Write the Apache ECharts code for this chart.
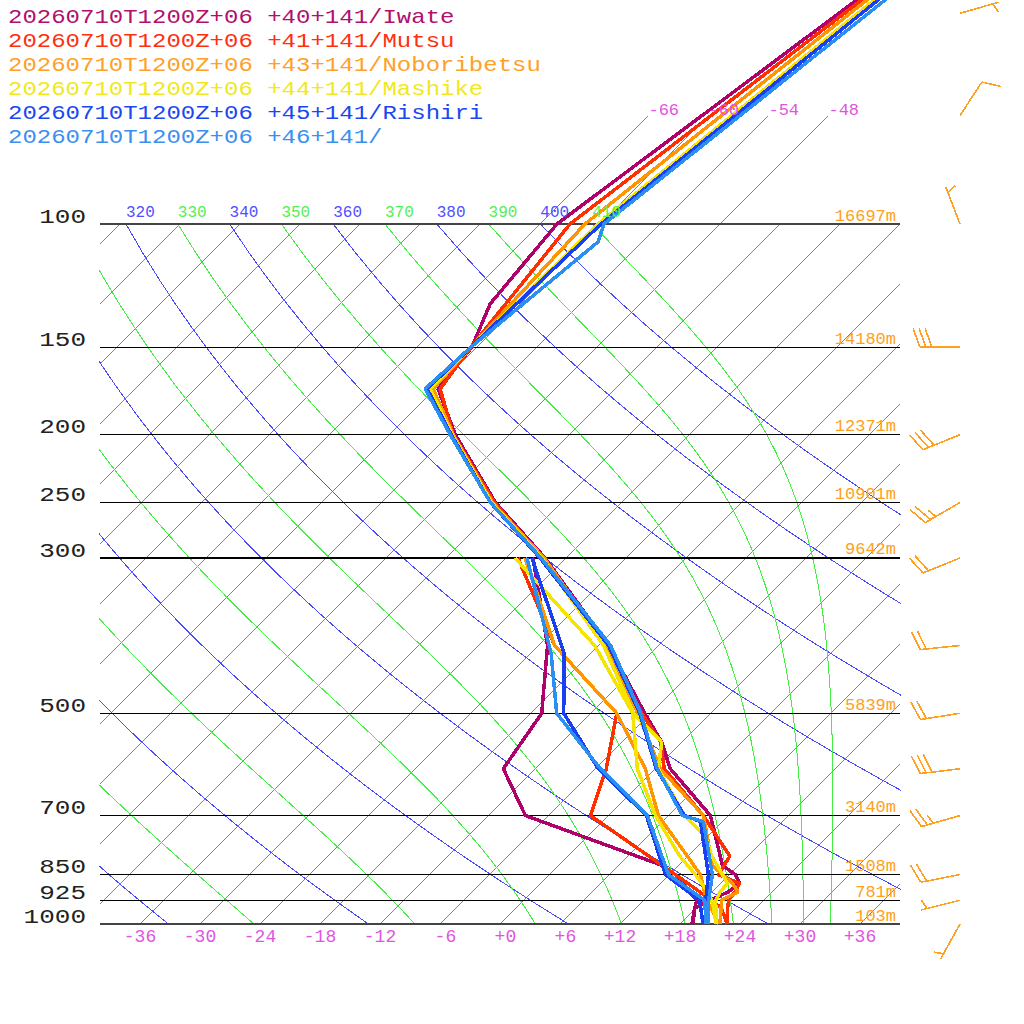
<!DOCTYPE html>
<html>
<head>
<meta charset="utf-8">
<title>skew-T</title>
<script src="https://cdn.jsdelivr.net/npm/echarts/dist/echarts.min.js"></script>
<style>
html, body { margin: 0; padding: 0; background: #fff; }
#main { width: 1024px; height: 1024px; }
#main svg path { shape-rendering: crispEdges; }
</style>
</head>
<body>
<div id="main"></div>
<script>
// stations (legend) and colours
var stationNames = [
	'20260710T1200Z+06 +40+141/Iwate',
	'20260710T1200Z+06 +41+141/Mutsu',
	'20260710T1200Z+06 +43+141/Noboribetsu',
	'20260710T1200Z+06 +44+141/Mashike',
	'20260710T1200Z+06 +45+141/Rishiri',
	'20260710T1200Z+06 +46+141/'
];
var stationColors = ['#b0006a', '#ff3000', '#ff9500', '#f5e400', '#1a3ff0', '#2a8ef2'];
var legendColors = ['#b0106e', '#ff3010', '#ffa028', '#f0e820', '#1a48f0', '#3a90f0'];

// temperature profiles [hPa, degC]
var iwateT = [[1000,19.3],[950,17.9],[925,18.6],[900,19.6],[875,19.9],[850,18.6],[825,16.4],[700,10.2],[600,1.5],[550,-2.0],[500,-6.6],[400,-17.0],[300,-32.1],[250,-42.6],[200,-53.4],[172,-59.7],[150,-60.5],[130,-63.0],[100,-64.3],[40,-54.9]];
var iwateTd = [[1000,19.2],[950,17.9],[925,17.3],[850,12.6],[825,10.4],[700,-8.3],[600,-15.2],[500,-16.9],[400,-23.1],[300,-33.3]];
var mutsuT = [[1000,22.7],[950,21.2],[925,20.5],[900,20.3],[875,19.9],[850,16.9],[800,16.2],[700,9.5],[600,0.9],[550,-2.1],[500,-6.9],[400,-17.1],[300,-32.3],[250,-42.7],[200,-53.6],[172,-59.5],[150,-60.6],[100,-63.0],[40,-54.6]];
var mutsuTd = [[1000,22.7],[950,20.6],[925,18.8],[850,12.6],[700,-1.8],[600,-4.9],[500,-9.4],[400,-22.4],[300,-34.8]];
var noboriT = [[1000,22.0],[925,19.8],[900,20.6],[875,19.2],[850,17.3],[825,15.4],[700,9.5],[600,0.5],[500,-7.3],[400,-17.2],[300,-32.2],[250,-42.9],[200,-53.6],[172,-60.2],[150,-60.6],[100,-61.5],[40,-54.3]];
var noboriTd = [[1000,21.9],[925,18.3],[850,15.1],[700,5.0],[600,-1.0],[500,-9.4],[400,-22.4],[300,-34.1]];
var mashikeT = [[1000,21.6],[925,19.2],[900,18.8],[875,18.7],[850,17.3],[800,14.4],[750,11.8],[700,7.6],[600,0.3],[550,-2.0],[500,-7.7],[400,-17.5],[300,-32.4],[250,-43.0],[200,-53.7],[172,-60.5],[150,-60.6],[100,-60.2],[40,-53.7]];
var mashikeTd = [[1000,21.6],[950,19.8],[925,18.8],[900,17.6],[850,14.6],[800,11.2],[700,4.7],[600,-1.8],[500,-7.8],[400,-18.4],[300,-35.1]];
var rishiriT = [[1000,20.5],[925,18.2],[850,15.9],[714,9.8],[700,7.6],[600,0.1],[500,-7.1],[400,-17.0],[300,-32.6],[250,-43.1],[200,-53.8],[172,-60.8],[150,-60.6],[100,-59.9],[40,-53.3]];
var rishiriTd = [[1000,20.3],[925,17.6],[850,11.6],[700,3.8],[600,-5.7],[500,-14.7],[410,-20.7],[300,-33.4]];
var p46T = [[1000,20.8],[925,18.5],[850,16.3],[714,10.1],[700,7.4],[600,0.2],[500,-7.0],[400,-16.8],[300,-32.5],[250,-43.1],[200,-53.9],[172,-61.0],[150,-60.6],[106,-58.4],[100,-59.6],[40,-52.5]];
var p46Td = [[1000,20.6],[925,18.1],[850,11.9],[700,3.9],[600,-5.5],[500,-15.4],[410,-22.0],[300,-33.9]];

var tempLines = [iwateT, mutsuT, noboriT, mashikeT, rishiriT, p46T];
var dewLines = [iwateTd, mutsuTd, noboriTd, mashikeTd, rishiriTd, p46Td];

// pressure levels, heights
var pressureLevels = [100, 150, 200, 250, 300, 500, 700, 850, 925, 1000];
var heightLabels = ['16697m', '14180m', '12371m', '10901m', '9642m', '5839m', '3140m', '1508m', '781m', '103m'];

// winds
var windLevels = [1000, 925, 850, 700, 600, 500, 400, 300, 250, 200, 150, 100, 70, 50];
var windDir = [209, 256, 259, 254, 263, 261, 264, 248, 240, 248, 270, 339, 33, 74];
var windSpeed = [5, 5, 20, 25, 30, 20, 20, 20, 25, 30, 30, 5, 10, 5];

// ticks
var tempTicks = [-36, -30, -24, -18, -12, -6, 0, 6, 12, 18, 24, 30, 36];
var topIsotherms = [-66, -60, -54, -48];
var dryThetas = [240, 260, 280, 300, 320, 340, 360, 380, 400];
var moistThetas = [250, 270, 290, 310, 330, 350, 370, 390, 410];

var FONT = '"Liberation Mono", monospace';
var P_TOP = 1000 * Math.pow(10, -924 / 700);
var MAGENTA = '#d546e6';

// skewed x : T + 70*log10(1000/p)
function sx(T, p) { return T + 70 * Math.log10(1000 / p); }
function toXY(arr) { return arr.map(function (d) { return [sx(d[1], d[0]), d[0]]; }); }

function satMix(T, p) {
	var tc = T - 273.15;
	var es = 6.112 * Math.exp(17.67 * tc / (tc + 243.5));
	return 0.622 * es / (p - es);
}
function moistLapse(T, p) {
	var Rd = 287.04, cp = 1005.7, Lv = 2.501e6, eps = 0.622;
	var rs = satMix(T, p);
	return (1 / p) * (Rd * T + Lv * rs) / (cp + (Lv * Lv * rs * eps) / (Rd * T * T));
}
function moistCurve(th) {
	var p = 100, T = th * Math.pow(0.1, 0.2857);
	var out = [[sx(T - 273.15, p), p]];
	var dp = 5;
	while (p < 1000) {
		var k1 = moistLapse(T, p);
		var k2 = moistLapse(T + k1 * dp / 2, p + dp / 2);
		var k3 = moistLapse(T + k2 * dp / 2, p + dp / 2);
		var k4 = moistLapse(T + k3 * dp, p + dp);
		T += dp * (k1 + 2 * k2 + 2 * k3 + k4) / 6;
		p += dp;
		if (p % 10 === 0) out.push([sx(T - 273.15, p), p]);
	}
	return out;
}
function dryCurve(th) {
	var out = [];
	for (var p = 1000; p >= 100; p -= 10) {
		out.push([sx(th * Math.pow(p / 1000, 0.2857) - 273.15, p), p]);
	}
	return out;
}

var series = [];
function addLine(data, color, width, z) {
	series.push({
		type: 'line', data: data, symbol: 'none', silent: true, clip: true,
		color: color, itemStyle: { color: color },
		lineStyle: { color: color, width: width, opacity: 1 }, z: z
	});
}

// isotherms, drawn as segments [X0, p0, X1, p1]
var isoSegs = [];
for (var t = -108; t <= 36; t += 6) isoSegs.push([sx(t, 1000), 1000, sx(t, 100), 100]);
topIsotherms.forEach(function (t) { isoSegs.push([sx(t, 100), 100, sx(t, 70), 70]); });
series.push({
	type: 'custom', clip: true, silent: true, z: 1,
	data: isoSegs,
	renderItem: function (params, api) {
		var a = api.coord([api.value(0), api.value(1)]);
		var b = api.coord([api.value(2), api.value(3)]);
		return { type: 'line', shape: { x1: a[0], y1: a[1], x2: b[0], y2: b[1] },
			style: { stroke: MAGENTA, lineWidth: 1, fill: null } };
	}
});
// adiabats
dryThetas.forEach(function (th) { addLine(dryCurve(th), '#4848ff', 1, 1); });
moistThetas.forEach(function (th) { addLine(moistCurve(th), '#44ee44', 1, 1); });
// pressure lines
pressureLevels.forEach(function (p) {
	var edge = (p === 100 || p === 1000);
	addLine([[-40, p], [40, p]], edge ? '#444' : '#000', edge ? 2 : 1.3, 2);
});
// dew point then temperature, per station
for (var i = 0; i < 6; i++) {
	addLine(toXY(dewLines[i]), stationColors[i], 3.5, 3);
	addLine(toXY(tempLines[i]), stationColors[i], 3.5, 3);
}

// wind barbs
function renderBarb(params, api) {
	var p = api.value(1), dir = api.value(2), spd = api.value(3);
	var c = api.coord([api.value(0), p]);
	var bx = c[0] + 60, by = c[1];
	var rad = dir * Math.PI / 180;
	var ux = Math.sin(rad), uy = -Math.cos(rad);
	var ang = 70 * Math.PI / 180;
	var vx = ux * Math.cos(ang) - uy * Math.sin(ang);
	var vy = ux * Math.sin(ang) + uy * Math.cos(ang);
	var tx = bx + ux * 40, ty = by + uy * 40;
	var style = { stroke: '#ffa020', lineWidth: 1.6 };
	var kids = [{ type: 'line', shape: { x1: bx, y1: by, x2: tx, y2: ty }, style: style }];
	var n10 = Math.floor(spd / 10), n5 = Math.round((spd - n10 * 10) / 5);
	var pos = (n10 === 0 && n5 > 0) ? 6 : 0;
	function barb(len) {
		var x0 = tx - ux * pos, y0 = ty - uy * pos;
		kids.push({ type: 'line', shape: { x1: x0, y1: y0, x2: x0 + vx * len, y2: y0 + vy * len }, style: style });
		pos += 6;
	}
	for (var k = 0; k < n10; k++) barb(20);
	for (var k2 = 0; k2 < n5; k2++) barb(10);
	return { type: 'group', children: kids };
}
series.push({
	type: 'custom', clip: false, silent: true, z: 4,
	renderItem: renderBarb,
	data: windLevels.map(function (p, i) { return [40, p, windDir[i], windSpeed[i]]; })
});

var chart = echarts.init(document.getElementById('main'), null, { renderer: 'svg' });
chart.setOption({
	animation: false,
	backgroundColor: '#fff',
	grid: { left: 100, right: 124, top: 0, bottom: 100 },
	xAxis: { type: 'value', min: -40, max: 40, show: false, splitLine: { show: false } },
	yAxis: { type: 'log', min: P_TOP, max: 1000, inverse: true, show: false, splitLine: { show: false } },
	series: series
});

// texts placed through the axes
function px(X, p) { return chart.convertToPixel({ gridIndex: 0 }, [X, p]); }
function txt(text, x, y, color, size, align, valign) {
	return {
		type: 'text', x: x, y: y, silent: true, z: 10,
		style: { text: text, fill: color, font: size + 'px ' + FONT,
			textAlign: align, textVerticalAlign: valign, align: align, verticalAlign: valign }
	};
}
var g = [];
stationNames.forEach(function (s, i) {
	var el = txt(s, 8, 17 + i * 24, legendColors[i], 21, 'left', 'middle');
	el.scaleX = 24 / 21;
	g.push(el);
});
pressureLevels.forEach(function (p, i) {
	var a = px(-40, p), b = px(40, p);
	var lab = txt(String(p), a[0] - 14, a[1] - 7, '#222', 26, 'right', 'middle');
	lab.scaleY = 0.8;
	g.push(lab);
	g.push(txt(heightLabels[i], b[0] - 4, b[1] - 8, '#ffa020', 17, 'right', 'middle'));
});
tempTicks.forEach(function (t) {
	var a = px(t, 1000);
	var s = t > 0 ? '+' + t : (t === 0 ? '+0' : String(t));
	while (s.length < 3) s = ' ' + s;
	g.push(txt(s, a[0], a[1] + 13, '#e055e0', 18, 'center', 'middle'));
});
topIsotherms.forEach(function (t) {
	var a = px(sx(t, 70), 70);
	g.push(txt(String(t), a[0], a[1] - 5, '#e055e0', 17, 'left', 'middle'));
});
dryThetas.forEach(function (th) {
	var T = th * Math.pow(0.1, 0.2857) - 273.15;
	var a = px(sx(T, 100), 100);
	if (a[0] >= 100 && a[0] < 880) g.push(txt(String(th), a[0], a[1] - 11, '#5050ff', 16, 'left', 'middle'));
});
moistThetas.forEach(function (th) {
	var c = moistCurve(th)[0];
	var a = px(c[0], 100);
	if (a[0] >= 100 && a[0] < 880) g.push(txt(String(th), a[0], a[1] - 11, '#55ee55', 16, 'left', 'middle'));
});
chart.setOption({ graphic: { elements: g } });
</script>
</body>
</html>
